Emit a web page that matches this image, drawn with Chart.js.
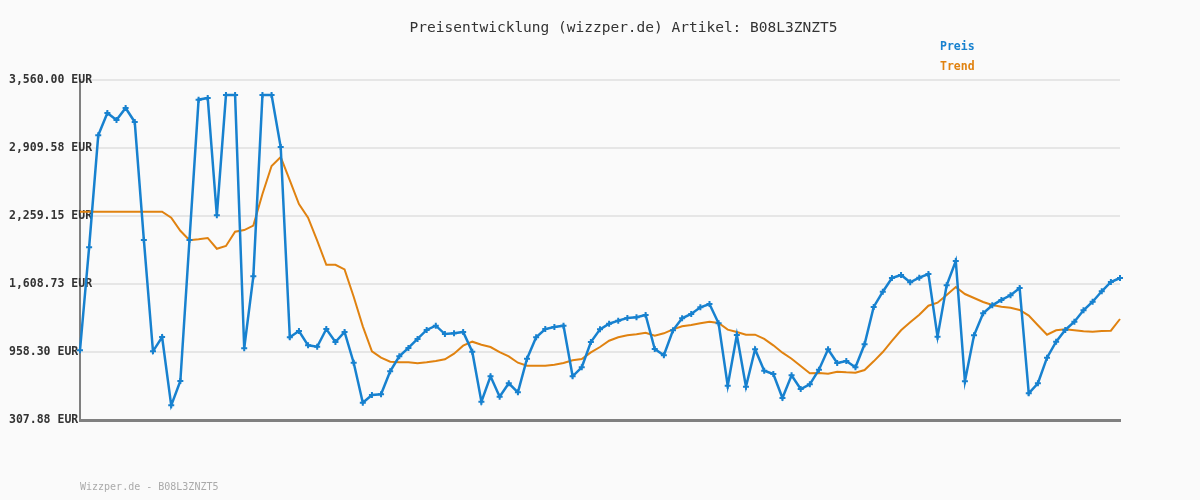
<!DOCTYPE html>
<html>
<head>
<meta charset="utf-8">
<script src="https://cdn.jsdelivr.net/npm/chart.js@4/dist/chart.umd.min.js"></script>
<style>
html,body{margin:0;padding:0;background:#fafafa;}
canvas{display:block;}
</style>
</head>
<body>
<canvas id="c" width="1200" height="500"></canvas>
<script>
const titleText = "Preisentwicklung (wizzper.de) Artikel: B08L3ZNZT5";
const footerText = "Wizzper.de - B08L3ZNZT5";
const seriesNames = ["Preis", "Trend"];
const tickValues = [307.88, 958.30, 1608.73, 2259.15, 2909.58, 3560.00];
const tickLabels = ["307.88 EUR", "958.30 EUR", "1,608.73 EUR", "2,259.15 EUR", "2,909.58 EUR", "3,560.00 EUR"];

const preis = [975,1960,3031,3244,3177,3292,3158,2030,965,1102,
  448,681,2030,3372,3388,2266,3416,3416,994,1682,
  3416,3416,2919,1099,1159,1022,1009,1178,1054,1150,
  856,473,547,554,774,917,997,1083,1169,1210,
  1130,1137,1150,961,483,726,531,659,573,894,
  1099,1178,1197,1210,726,812,1054,1175,1229,1258,
  1284,1290,1312,987,927,1166,1281,1322,1386,1417,
  1233,636,1121,626,984,779,748,518,735,604,
  649,789,984,853,872,812,1032,1389,1535,1666,
  1695,1625,1669,1704,1105,1596,1829,678,1118,1328,
  1405,1456,1501,1570,563,659,904,1057,1169,1248,
  1357,1439,1539,1628,1666];

const trend = [2300,2300,2300,2300,2300,2300,2300,2300,2300,2300,
  2243,2118,2027,2036,2049,1946,1972,2109,2125,2168,
  2470,2737,2823,2601,2374,2243,2023,1793,1793,1749,
  1487,1204,965,904,866,860,860,850,860,872,
  888,942,1019,1057,1028,1006,958,917,856,827,
  827,827,837,853,879,891,955,1006,1066,1099,
  1118,1128,1143,1114,1137,1175,1204,1217,1233,1248,
  1236,1172,1150,1124,1124,1083,1022,952,894,824,
  755,757,751,770,764,760,786,869,958,1064,
  1166,1242,1315,1401,1430,1504,1580,1513,1475,1437,
  1408,1392,1382,1360,1306,1214,1124,1166,1175,1166,
  1156,1153,1159,1162,1274];

const labels = preis.map((_, i) => String(i + 1));

const blue = "#1781cf";
const orange = "#e08210";

const textPlugin = {
  id: "texts",
  afterDraw(chart) {
    const ctx = chart.ctx;
    ctx.save();
    ctx.textBaseline = "middle";
    ctx.textAlign = "center";
    ctx.fillStyle = "#333";
    ctx.font = "14.5px 'DejaVu Sans Mono'";
    ctx.fillText(titleText, 623.5, 28);
    ctx.textAlign = "left";
    ctx.font = "bold 11.5px 'DejaVu Sans Mono'";
    ctx.fillStyle = blue;
    ctx.fillText(seriesNames[0], 940, 47);
    ctx.fillStyle = orange;
    ctx.fillText(seriesNames[1], 940, 67);
    ctx.fillStyle = "#aaa";
    ctx.font = "10px 'DejaVu Sans Mono'";
    ctx.fillText(footerText, 80, 487);
    ctx.restore();
  }
};

const bgPlugin = {
  id: "bg",
  beforeDraw(chart) {
    const ctx = chart.ctx;
    ctx.save();
    ctx.fillStyle = "#fafafa";
    ctx.fillRect(0, 0, chart.width, chart.height);
    ctx.restore();
  }
};

new Chart(document.getElementById("c"), {
  type: "line",
  data: {
    labels: labels,
    datasets: [
      {
        label: seriesNames[0],
        data: preis,
        borderColor: blue,
        backgroundColor: blue,
        borderWidth: 2.5,
        pointStyle: "cross",
        pointRadius: 3,
        pointBorderWidth: 2,
        pointBorderColor: blue,
        tension: 0,
        order: 1
      },
      {
        label: seriesNames[1],
        data: trend,
        borderColor: orange,
        backgroundColor: orange,
        borderWidth: 2,
        pointRadius: 0,
        tension: 0,
        order: 2
      }
    ]
  },
  options: {
    responsive: false,
    animation: false,
    events: [],
    layout: { padding: { left: 9, right: 80, top: 80, bottom: 80 } },
    plugins: {
      legend: { display: false },
      title: { display: false },
      tooltip: { enabled: false }
    },
    scales: {
      x: {
        type: "category",
        offset: false,
        ticks: { display: false },
        grid: { display: false, drawTicks: false },
        border: { display: true, color: "#808080", width: 3 },
        afterFit(scale) { scale.height = 0; }
      },
      y: {
        type: "linear",
        min: tickValues[0],
        max: tickValues[tickValues.length - 1],
        afterBuildTicks(scale) {
          scale.ticks = tickValues.map(v => ({ value: v }));
        },
        afterFit(scale) { scale.width = 71; },
        ticks: {
          mirror: true,
          crossAlign: "near",
          padding: -71,
          color: "#333",
          font: { family: "'DejaVu Sans Mono'", size: 11.5, weight: "bold" },
          callback(value) {
            const idx = tickValues.findIndex(v => Math.abs(v - value) < 0.01);
            return idx >= 0 ? tickLabels[idx] : "";
          }
        },
        grid: { color: "#e6e6e6", lineWidth: 2, drawTicks: false },
        border: { display: true, color: "#808080", width: 2 }
      }
    }
  },
  plugins: [bgPlugin, textPlugin]
});
</script>
</body>
</html>
